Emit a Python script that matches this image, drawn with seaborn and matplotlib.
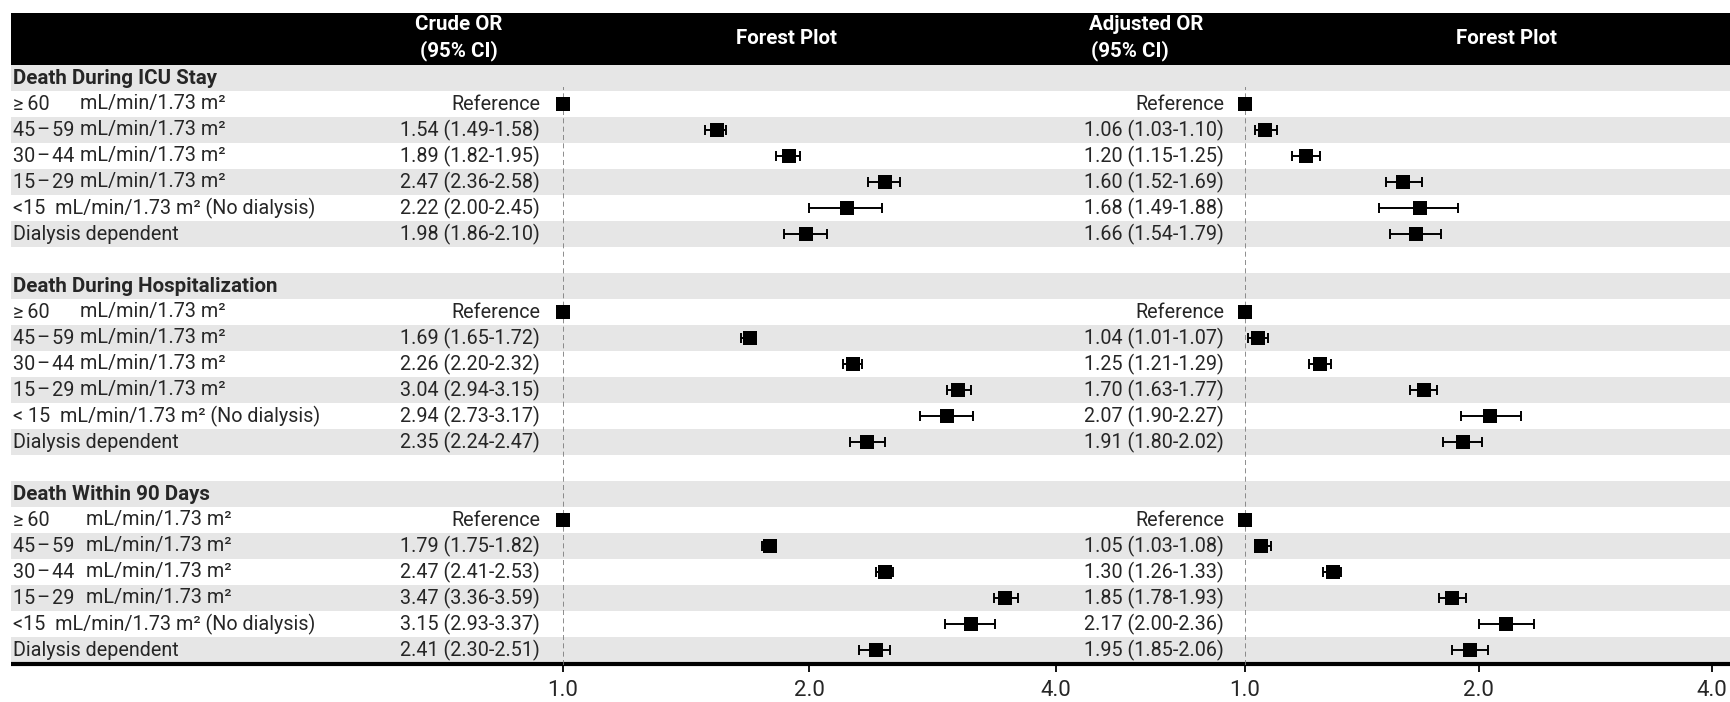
import numpy as np
import pandas as pd
import seaborn as sns
import matplotlib.pyplot as plt
from matplotlib.patches import Rectangle
from matplotlib.ticker import NullLocator

# row labels
sections = ["Death During ICU Stay", "Death During Hospitalization", "Death Within 90 Days"]
egfr_ranges = ["≥\u200960", "45\u200a–\u200a59", "30\u200a–\u200a44", "15\u200a–\u200a29"]
egfr_unit = "mL/min/1.73 m²"
no_dialysis_labels = ["<15  mL/min/1.73 m² (No dialysis)",
                      "< 15  mL/min/1.73 m² (No dialysis)",
                      "<15  mL/min/1.73 m² (No dialysis)"]
dialysis_label = "Dialysis dependent"
ref_label = "Reference"

# odds ratios, one inner list per outcome: 45-59, 30-44, 15-29, <15, dialysis
crude_or = [[1.54, 1.89, 2.47, 2.22, 1.98], [1.69, 2.26, 3.04, 2.94, 2.35], [1.79, 2.47, 3.47, 3.15, 2.41]]
crude_lo = [[1.49, 1.82, 2.36, 2.00, 1.86], [1.65, 2.20, 2.94, 2.73, 2.24], [1.75, 2.41, 3.36, 2.93, 2.30]]
crude_hi = [[1.58, 1.95, 2.58, 2.45, 2.10], [1.72, 2.32, 3.15, 3.17, 2.47], [1.82, 2.53, 3.59, 3.37, 2.51]]
adj_or = [[1.06, 1.20, 1.60, 1.68, 1.66], [1.04, 1.25, 1.70, 2.07, 1.91], [1.05, 1.30, 1.85, 2.17, 1.95]]
adj_lo = [[1.03, 1.15, 1.52, 1.49, 1.54], [1.01, 1.21, 1.63, 1.90, 1.80], [1.03, 1.26, 1.78, 2.00, 1.85]]
adj_hi = [[1.10, 1.25, 1.69, 1.88, 1.79], [1.07, 1.29, 1.77, 2.27, 2.02], [1.08, 1.33, 1.93, 2.36, 2.06]]

x_ticks = [1.0, 2.0, 4.0]
header_crude = ["Crude OR", "(95% CI)"]
header_adj = ["Adjusted OR", "(95% CI)"]
header_plot = "Forest Plot"


# build the table, one record per row
records = []
for s, name in enumerate(sections):
    records.append(dict(kind="header", sec=s, label=name))
    records.append(dict(kind="ref", sec=s, label=egfr_ranges[0], crude=1.0, adj=1.0))
    labels = egfr_ranges[1:] + [no_dialysis_labels[s], dialysis_label]
    for k, lab in enumerate(labels):
        records.append(dict(kind="data", sec=s, label=lab,
                            crude=crude_or[s][k], crude_lo=crude_lo[s][k], crude_hi=crude_hi[s][k],
                            adj=adj_or[s][k], adj_lo=adj_lo[s][k], adj_hi=adj_hi[s][k]))
    if s < len(sections) - 1:
        records.append(dict(kind="blank", sec=s, label=""))
df = pd.DataFrame(records)
df["row"] = np.arange(len(df))

sns.set_theme(style="white")
plt.rcParams["font.family"] = ["Roboto", "DejaVu Sans"]

W, H = 1730, 702
ROW0, ROW_H = 65, 26
AX_BOTTOM = 665
GRAY = "#e6e6e6"
BODY = 14.2

fig = plt.figure(figsize=(W / 100, H / 100), dpi=100)
bg = fig.add_axes([0, 0, 1, 1])
bg.set_xlim(0, W)
bg.set_ylim(H, 0)
bg.axis("off")

# stripes and header band
for i in range(0, len(df), 2):
    bg.add_patch(Rectangle((11, ROW0 + i * ROW_H), W - 11, ROW_H, color=GRAY, lw=0))
bg.add_patch(Rectangle((11, 13), W - 11, ROW0 - 13, color="black", lw=0))
bg.plot([11, W], [663.5, 663.5], color="black", lw=3, solid_capstyle="butt")

hdr = dict(color="white", fontweight="bold", fontsize=14.8, va="center")
bg.text(415, 25, header_crude[0], **hdr)
bg.text(420, 51, header_crude[1], **hdr)
bg.text(1089, 25, header_adj[0], **hdr)
bg.text(1091, 51, header_adj[1], **hdr)
bg.text(787, 38, header_plot, ha="center", **hdr)
bg.text(1506, 38, header_plot, ha="center", **hdr)

# left label column and the two estimate columns
unit_x = [80, 80, 86]
for _, r in df.iterrows():
    y = ROW0 + ROW_H * (r.row + 0.5)
    if r.kind == "header":
        bg.text(13, y, r.label, fontweight="bold", fontsize=BODY + 0.6, va="center")
        continue
    if r.kind == "blank":
        continue
    if r.label in egfr_ranges:
        bg.text(13, y, r.label, fontsize=BODY, va="center")
        bg.text(unit_x[r.sec], y, egfr_unit, fontsize=BODY, va="center")
    else:
        bg.text(13, y, r.label, fontsize=BODY, va="center")
    if r.kind == "ref":
        crude_txt, adj_txt = ref_label, ref_label
    else:
        crude_txt = f"{r.crude:.2f} ({r.crude_lo:.2f}-{r.crude_hi:.2f})"
        adj_txt = f"{r.adj:.2f} ({r.adj_lo:.2f}-{r.adj_hi:.2f})"
    bg.text(540, y, crude_txt, fontsize=BODY, va="center", ha="right")
    bg.text(1224, y, adj_txt, fontsize=BODY, va="center", ha="right")


def forest(x0, x1, col):
    ax = fig.add_axes([x0 / W, (H - AX_BOTTOM) / H, (x1 - x0) / W, (AX_BOTTOM - ROW0) / H])
    ax.set_facecolor("none")
    d = df[df.kind == "data"]
    ax.errorbar(d[col], d.row, xerr=[d[col] - d[col + "_lo"], d[col + "_hi"] - d[col]],
                fmt="none", ecolor="black", elinewidth=1.4, capsize=3.8, capthick=1.4, zorder=2)
    pts = df[df.kind.isin(["data", "ref"])]
    sns.scatterplot(data=pts, x=col, y="row", marker="s", s=100, color="black",
                    linewidth=0, ax=ax, zorder=3, clip_on=False)
    ax.axvline(1.0, ymin=0, ymax=1 - 22 / (AX_BOTTOM - ROW0), color="#7a7a7a",
               ls=(0, (3, 2)), lw=1.2, zorder=1)
    ax.set_xscale("log", base=2)
    ax.set_xlim(1, 4)
    ax.set_ylim(-0.5 + (AX_BOTTOM - ROW0) / ROW_H, -0.5)
    ax.set_xticks(x_ticks)
    ax.set_xticklabels([f"{t:.1f}" for t in x_ticks])
    ax.xaxis.set_minor_locator(NullLocator())
    ax.set_yticks([])
    ax.set_xlabel("")
    ax.set_ylabel("")
    for sp in ax.spines.values():
        sp.set_visible(False)
    ax.tick_params(axis="x", bottom=True, direction="out", length=5, width=1.3,
                   color="black", labelsize=16, pad=6)
    return ax


forest(563, 1056, "crude")
forest(1245, 1712, "adj")

fig.savefig("out.png", dpi=100)
